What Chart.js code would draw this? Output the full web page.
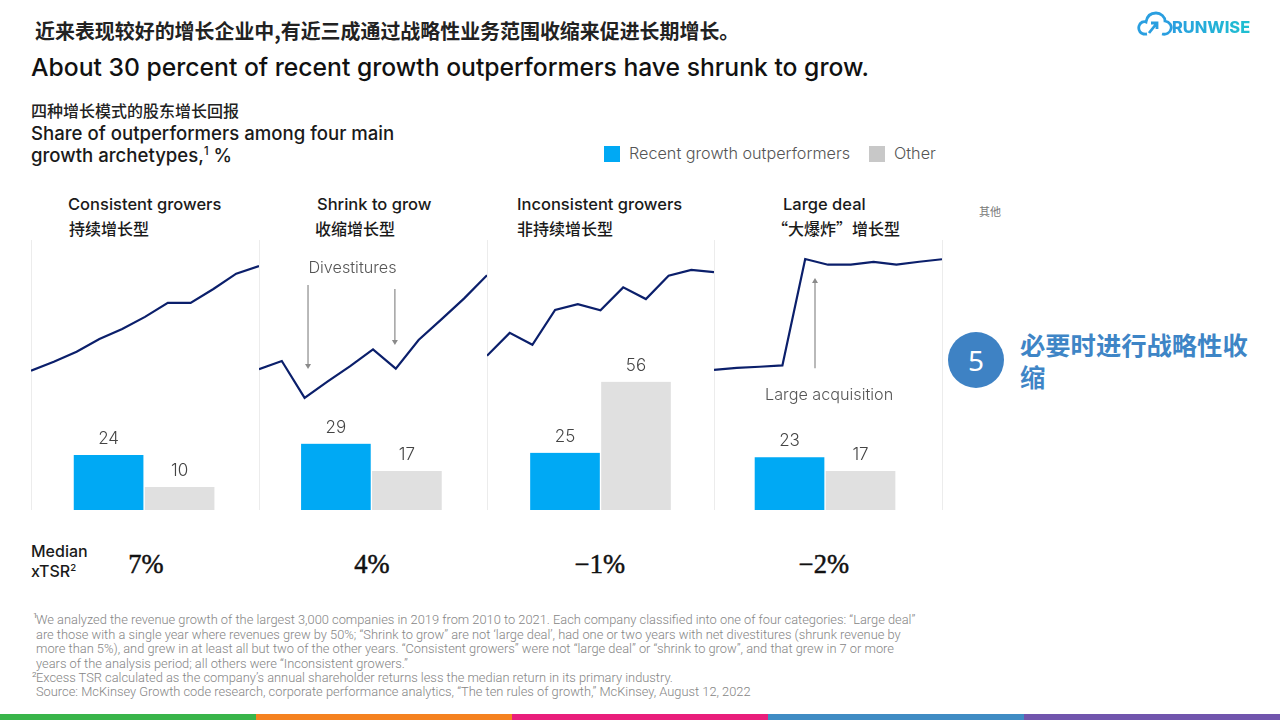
<!DOCTYPE html>
<html lang="zh">
<head>
<meta charset="utf-8">
<title>About 30 percent of recent growth outperformers have shrunk to grow</title>
<script src="https://cdn.jsdelivr.net/npm/chart.js@4/dist/chart.umd.min.js"></script>
<style>
html, body { margin: 0; background: #fff; }
body { position: relative; width: 1280px; height: 720px; overflow: hidden; font-family: Inter, "Noto Sans CJK SC", sans-serif; color: #1a1a1a; }
.t { position: absolute; white-space: nowrap; line-height: 1; transform: translateY(-50%); }
.cn { font-family: "Noto Sans CJK SC", sans-serif; }
.panel { position: absolute; top: 240px; height: 270px; border-left: 1px solid #ececec; box-sizing: border-box; }
.panel canvas { position: absolute; left: -1px; top: 0; }
.swatch { position: absolute; width: 16px; height: 16px; top: 146px; }
.note { font-family: Roboto, sans-serif; font-weight: 300; font-size: 12.85px; color: #858585; }
.fn { font-family: Roboto, sans-serif; font-size: 8px; color: #858585; }
.median { font-family: "Liberation Serif", serif; font-size: 26.5px; -webkit-text-stroke: 0.5px #111; transform: translate(-50%, -50%); color: #111; }
.logo { font-size: 16.4px; font-weight: 800; background: linear-gradient(90deg, #2a9fe0, #1fc0d0); -webkit-background-clip: text; background-clip: text; color: transparent; }
sup { font-size: 60%; line-height: 0; }
#strip { position: absolute; left: 0; top: 714px; width: 1280px; height: 6px; display: flex; }
#strip div { flex: 1; }
</style>
</head>
<body>
<div class="t cn" style="left:35px;top:31px;font-size:19.95px;font-weight:700;color:#222">近来表现较好的增长企业中,有近三成通过战略性业务范围收缩来促进长期增长。</div>
<div class="t" style="left:31px;top:67px;font-size:24.7px;font-weight:500;color:#111">About 30 percent of recent growth outperformers have shrunk to grow.</div>
<div class="t cn" style="left:31px;top:110px;font-size:16px;font-weight:500;color:#222">四种增长模式的股东增长回报</div>
<div class="t" style="left:31px;top:133px;font-size:18.6px;font-weight:500">Share of outperformers among four main</div>
<div class="t" style="left:31px;top:155px;font-size:18.6px;font-weight:500">growth archetypes,<sup>1</sup> %</div>

<div class="swatch" style="left:604px;background:#00a9f4"></div>
<div class="t" id="legendA" style="left:629px;top:153px;font-size:16.2px;font-weight:300;color:#555"></div>
<div class="swatch" style="left:869px;background:#c8c8c8"></div>
<div class="t" id="legendB" style="left:894px;top:153px;font-size:16.2px;font-weight:300;color:#555"></div>
<div class="t cn" style="left:979px;top:211px;font-size:11px;color:#777">其他</div>

<div id="panels"></div>
<div style="position:absolute;left:942px;top:240px;height:270px;border-left:1px solid #ececec"></div>

<div class="t" style="left:31px;top:551px;font-size:16px;font-weight:500">Median</div>
<div class="t" style="left:31px;top:571px;font-size:16px;font-weight:500">xTSR<sup>2</sup></div>

<div style="position:absolute;left:948px;top:332px;width:56px;height:56px;border-radius:50%;background:#3e82c4"></div>
<div class="t" style="left:976px;top:360px;font-family:'Noto Sans';font-size:28px;color:#fff;transform:translate(-50%,-50%)">5</div>
<div class="t cn" style="left:1020px;top:345px;font-size:25.3px;font-weight:700;color:#3e85c6">必要时进行战略性收</div>
<div class="t cn" style="left:1020px;top:377px;font-size:25.3px;font-weight:700;color:#3e85c6">缩</div>

<svg style="position:absolute;left:1137px;top:11px" width="36" height="26" viewBox="0 0 36 26" fill="none" stroke="#2a9fe0" stroke-width="2.8">
  <path d="M10 23 C3 24 1 19 2 15 C3 11 7 10 9 11 C10 5 14 2 19 2 C24 2 28 6 28 10 C33 11 35 15 34 18 C33 22 29 24 25 23"/>
  <path d="M12 22 L20 12 M14 12 H20 V18"/>
</svg>
<div class="t logo" style="left:1172px;top:27px">RUNWISE</div>

<div class="t fn" style="left:33px;top:616px">1</div>
<div class="t note" style="left:36px;top:620px">We analyzed the revenue growth of the largest 3,000 companies in 2019 from 2010 to 2021. Each company classified into one of four categories: “Large deal”</div>
<div class="t note" style="left:36px;top:635px">are those with a single year where revenues grew by 50%; “Shrink to grow” are not ‘large deal’, had one or two years with net divestitures (shrunk revenue by</div>
<div class="t note" style="left:36px;top:649px">more than 5%), and grew in at least all but two of the other years. “Consistent growers” were not “large deal” or “shrink to grow”, and that grew in 7 or more</div>
<div class="t note" style="left:36px;top:664px">years of the analysis period; all others were “Inconsistent growers.”</div>
<div class="t fn" style="left:32px;top:675px">2</div>
<div class="t note" style="left:36px;top:678px">Excess TSR calculated as the company’s annual shareholder returns less the median return in its primary industry.</div>
<div class="t note" style="left:36px;top:692px">Source: McKinsey Growth code research, corporate performance analytics, “The ten rules of growth,” McKinsey, August 12, 2022</div>
<div id="strip"></div>

<script>
// ── Datos ───────────────────────────────────────────────────────────
const archetypes = ["Consistent growers", "Shrink to grow", "Inconsistent growers", "Large deal"];
const archetypesCn = ["持续增长型", "收缩增长型", "非持续增长型", "“大爆炸”增长型"];
const seriesNames = ["Recent growth outperformers", "Other"];
const outperformers = [24, 29, 25, 23];
const others = [10, 17, 56, 17];
const medianTsr = ["7%", "4%", "−1%", "−2%"];
const years = [2011, 2012, 2013, 2014, 2015, 2016, 2017, 2018, 2019, 2020, 2021];

const consistentLine = [60.9, 64.8, 69.2, 74.7, 79.1, 84.4, 90.5, 90.5, 96.6, 103.3, 106.6];
const shrinkLine = [61.5, 65.1, 49, 56.1, 62.9, 70.2, 61.8, 74.3, 83.3, 92.5, 102.6];
const inconsistentLine = [67.4, 77.4, 72.2, 87.4, 90, 87.3, 97.3, 92.2, 102.4, 104.9, 104];
const largeDealLine = [61.2, 62.1, 62.6, 63.2, 109.7, 107.2, 107.2, 108.4, 107.2, 108.5, 109.6];
const lines = [consistentLine, shrinkLine, inconsistentLine, largeDealLine];

// Anotaciones: posición sobre los ejes de cada panel
const shrinkArrows = [{ at: 2013.15, from: 98.3, to: 61.6 }, { at: 2016.96, from: 96.6, to: 72.1 }];
const largeDealArrows = [{ at: 2015.43, from: 62, to: 101.4 }];
const arrows = [[], shrinkArrows, [], largeDealArrows];
const callouts = [null, { text: "Divestitures", at: 2015.1, value: 105.6 }, null, { text: "Large acquisition", at: 2016.05, value: 50 }];

// ── Layout del panel ────────────────────────────────────────────────
const panelLeft = [31, 259, 487, 714];
const panelWidth = [228, 228, 227, 228];
const titleLeft = [68, 317, 517, 783];
const titleCnLeft = [69, 315, 517, 772];
const medianCenter = [146, 372, 600, 824];
const barCenter = [2015.96, 2015.93, 2016, 2015.87];

const barColor = "#00a9f4";
const otherColor = "#e0e0e0";
const lineColor = "#0b1f6b";

document.getElementById("legendA").textContent = seriesNames[0];
document.getElementById("legendB").textContent = seriesNames[1];

["#39b54a", "#f58220", "#e91e7b", "#3f8cc4", "#7155ad"].forEach(function (c) {
	const d = document.createElement("div");
	d.style.background = c;
	document.getElementById("strip").appendChild(d);
});

function addText(cls, left, top, size, weight, text) {
	const d = document.createElement("div");
	d.className = cls;
	d.style.cssText = `left:${left}px;top:${top}px;font-size:${size}px;font-weight:${weight}`;
	d.textContent = text;
	document.body.appendChild(d);
}

// Etiquetas de valor, flechas y textos de anotación sobre el canvas
const panelOverlay = {
	id: "panelOverlay",
	afterDatasetsDraw(chart, args, opts) {
		const ctx = chart.ctx;
		const x = chart.scales.x;
		const y = chart.scales.y;
		ctx.save();
		ctx.textAlign = "center";
		ctx.textBaseline = "middle";
		ctx.fillStyle = "#444";
		ctx.font = "300 17px Inter";
		[0, 1].forEach(function (i) {
			chart.getDatasetMeta(i).data.forEach(function (bar, j) {
				ctx.fillText(chart.data.datasets[i].data[j].y, bar.x, bar.y - 16);
			});
		});
		opts.arrows.forEach(function (a) {
			const px = x.getPixelForValue(a.at);
			const y0 = y.getPixelForValue(a.from);
			const y1 = y.getPixelForValue(a.to);
			const dir = y1 > y0 ? 1 : -1;
			ctx.strokeStyle = "#8a8a8a";
			ctx.fillStyle = "#8a8a8a";
			ctx.lineWidth = 1.2;
			ctx.beginPath();
			ctx.moveTo(px, y0);
			ctx.lineTo(px, y1 - dir * 4);
			ctx.stroke();
			ctx.beginPath();
			ctx.moveTo(px, y1);
			ctx.lineTo(px - 3, y1 - dir * 5);
			ctx.lineTo(px + 3, y1 - dir * 5);
			ctx.fill();
		});
		if (opts.callout) {
			ctx.fillStyle = "#555";
			ctx.font = "300 16.2px Inter";
			ctx.fillText(opts.callout.text, x.getPixelForValue(opts.callout.at), y.getPixelForValue(opts.callout.value));
		}
		ctx.restore();
	},
};

// ── Paneles ─────────────────────────────────────────────────────────
archetypes.forEach(function (name, i) {
	addText("t", titleLeft[i], 204, 16.5, 500, name);
	addText("t cn", titleCnLeft[i], 228, 16, 500, archetypesCn[i]);
	const m = document.createElement("div");
	m.className = "t median";
	m.style.cssText = `left:${medianCenter[i]}px;top:564px`;
	m.textContent = medianTsr[i];
	document.body.appendChild(m);

	const panel = document.createElement("div");
	panel.className = "panel";
	panel.style.cssText = `left:${panelLeft[i]}px;width:${panelWidth[i]}px`;
	const canvas = document.createElement("canvas");
	canvas.width = panelWidth[i];
	canvas.height = 270;
	panel.appendChild(canvas);
	document.getElementById("panels").appendChild(panel);

	const barStyle = { barThickness: 71, borderColor: "#fff", borderWidth: { left: 1, right: 1 } };
	new Chart(canvas, {
		type: "bar",
		data: {
			datasets: [
				{ label: seriesNames[0], data: [{ x: barCenter[i], y: outperformers[i] }], backgroundColor: barColor, ...barStyle },
				{ label: seriesNames[1], data: [{ x: barCenter[i], y: others[i] }], backgroundColor: otherColor, ...barStyle },
				{ type: "line", label: name, data: lines[i].map((v, k) => ({ x: years[k], y: v })), borderColor: lineColor, borderWidth: 2.2, pointRadius: 0, tension: 0 },
			],
		},
		options: {
			responsive: false,
			animation: false,
			layout: { padding: 0 },
			plugins: {
				legend: { display: false },
				tooltip: { enabled: false },
				panelOverlay: { arrows: arrows[i], callout: callouts[i] },
			},
			scales: {
				x: { type: "linear", min: years[0], max: years[years.length - 1], offset: false, display: false },
				y: { min: 0, max: 118, display: false },
			},
		},
		plugins: [panelOverlay],
	});
});
</script>
</body>
</html>
